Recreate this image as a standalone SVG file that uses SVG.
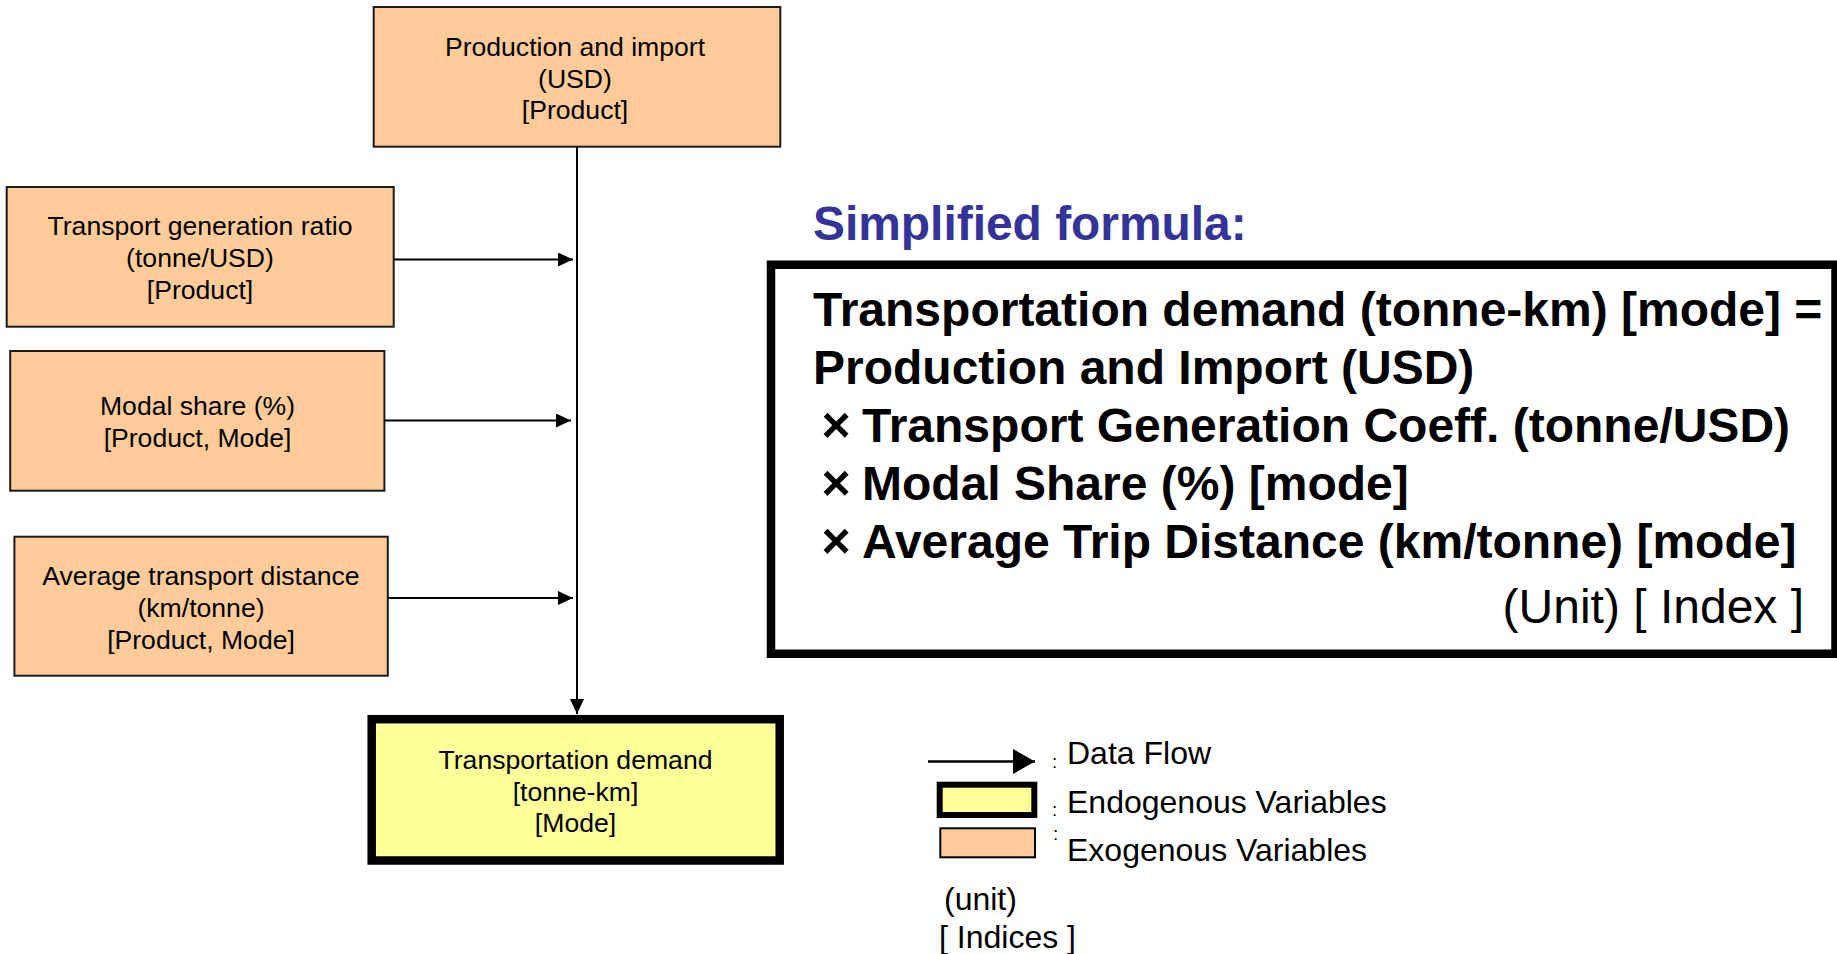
<svg xmlns="http://www.w3.org/2000/svg" width="1837" height="954" viewBox="0 0 1837 954">
  <style>
    .exo { fill: #FFCC99; stroke: #1a1a1a; stroke-width: 2; }
    .endo { fill: #FFFF99; stroke: #000; stroke-width: 8.5; }
    .lbl { font-family: "Liberation Sans", Arial, sans-serif; font-size: 26.6px; fill: #000; text-anchor: middle; }
    .flow { stroke: #000; stroke-width: 2; fill: none; marker-end: url(#arrow); }
    .title { font-family: "Liberation Sans", Arial, sans-serif; font-size: 47.9px; font-weight: bold; fill: #333399; }
    .fx { font-family: "Liberation Sans", Arial, sans-serif; font-size: 48px; font-weight: bold; fill: #000; }
    .times { font-family: "Liberation Sans", Arial, sans-serif; font-size: 50px; font-weight: bold; fill: #000; text-anchor: middle; }
    .unit { font-family: "Liberation Sans", Arial, sans-serif; font-size: 48px; fill: #000; text-anchor: end; }
    .leg { font-family: "Liberation Sans", Arial, sans-serif; font-size: 32px; fill: #000; }
    .colon { font-family: "Liberation Sans", Arial, sans-serif; font-size: 19px; fill: #000; }
  </style>
  <defs>
    <marker id="arrow" markerUnits="userSpaceOnUse" markerWidth="16" markerHeight="15" refX="15" refY="7" orient="auto">
      <path d="M0,0 L15,7 L0,14 z" fill="#000"/>
    </marker>
    <marker id="arrowBig" markerUnits="userSpaceOnUse" markerWidth="23" markerHeight="26" refX="22" refY="12.5" orient="auto">
      <path d="M0,0 L22,12.5 L0,25 z" fill="#000"/>
    </marker>
  </defs>

  <!-- connectors -->
  <g id="connectors">
    <line class="flow" x1="577" y1="147" x2="577" y2="714"/>
    <line class="flow" x1="394" y1="259.5" x2="573" y2="259.5"/>
    <line class="flow" x1="385" y1="420.5" x2="571" y2="420.5"/>
    <line class="flow" x1="388" y1="598" x2="573" y2="598"/>
  </g>

  <!-- exogenous inputs -->
  <g id="production-import">
    <rect class="exo" x="373.7" y="7" width="406.6" height="139.7"/>
    <text class="lbl" x="575" y="56">Production and import</text>
    <text class="lbl" x="575" y="87.5">(USD)</text>
    <text class="lbl" x="575" y="119">[Product]</text>
  </g>
  <g id="generation-ratio">
    <rect class="exo" x="6.7" y="187" width="387" height="139.7"/>
    <text class="lbl" x="200" y="235">Transport generation ratio</text>
    <text class="lbl" x="200" y="266.7">(tonne/USD)</text>
    <text class="lbl" x="200" y="298.8">[Product]</text>
  </g>
  <g id="modal-share">
    <rect class="exo" x="10.2" y="351" width="374.2" height="139.7"/>
    <text class="lbl" x="197.5" y="414.8">Modal share (%)</text>
    <text class="lbl" x="197.5" y="446.7">[Product, Mode]</text>
  </g>
  <g id="transport-distance">
    <rect class="exo" x="14.4" y="536.7" width="373.4" height="139"/>
    <text class="lbl" x="201" y="585.3">Average transport distance</text>
    <text class="lbl" x="201" y="616.7">(km/tonne)</text>
    <text class="lbl" x="201" y="649.3">[Product, Mode]</text>
  </g>

  <!-- endogenous output -->
  <g id="transport-demand">
    <rect class="endo" x="371.7" y="719.2" width="408" height="141.3"/>
    <text class="lbl" x="575.5" y="768.5">Transportation demand</text>
    <text class="lbl" x="575.5" y="800.5">[tonne-km]</text>
    <text class="lbl" x="575.5" y="832">[Mode]</text>
  </g>

  <!-- formula panel -->
  <g id="formula">
    <text class="title" x="813" y="240">Simplified formula:</text>
    <rect x="771" y="264.75" width="1064.5" height="389" fill="#fff" stroke="#000" stroke-width="8.5"/>
    <text class="fx" x="813" y="326">Transportation demand (tonne-km) [mode] =</text>
    <text class="fx" x="813" y="384">Production and Import (USD)</text>
    <text class="times" x="836" y="442">×</text>
    <text class="fx" x="862" y="442">Transport Generation Coeff. (tonne/USD)</text>
    <text class="times" x="836" y="500">×</text>
    <text class="fx" x="862" y="500">Modal Share (%) [mode]</text>
    <text class="times" x="836" y="558">×</text>
    <text class="fx" x="862" y="558">Average Trip Distance (km/tonne) [mode]</text>
    <text class="unit" x="1804" y="623">(Unit) [ Index ]</text>
  </g>

  <!-- legend -->
  <g id="legend">
    <line x1="928" y1="761.5" x2="1035" y2="761.5" stroke="#000" stroke-width="2.5" marker-end="url(#arrowBig)"/>
    <text class="colon" x="1052" y="768">:</text>
    <text class="leg" x="1067" y="764">Data Flow</text>
    <rect x="939.7" y="784.7" width="94.6" height="30.3" fill="#FFFF99" stroke="#000" stroke-width="6"/>
    <text class="colon" x="1052" y="816">:</text>
    <text class="leg" x="1067" y="812.5">Endogenous Variables</text>
    <rect x="940.3" y="828.3" width="94.7" height="29" fill="#FFCC99" stroke="#000" stroke-width="2"/>
    <text class="colon" x="1053" y="840">:</text>
    <text class="leg" x="1067" y="861">Exogenous Variables</text>
    <text class="leg" x="944" y="910">(unit)</text>
    <text class="leg" x="939" y="947.5">[ Indices ]</text>
  </g>
</svg>
